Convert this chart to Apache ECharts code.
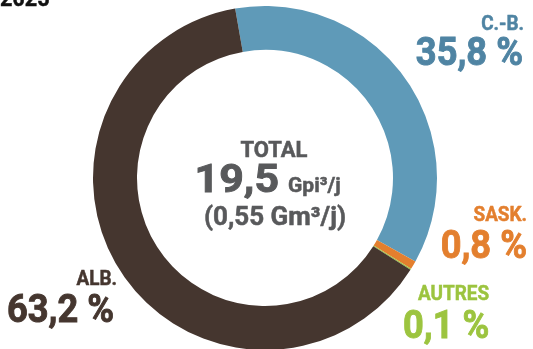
<!DOCTYPE html>
<html><head><meta charset="utf-8">
<script src="https://cdn.jsdelivr.net/npm/echarts@6/dist/echarts.min.js"></script>
<style>html,body{margin:0;padding:0;background:#fff}#c{width:533px;height:349px}</style>
</head><body><div id="c"></div>
<script>
var categories = ['C.-B.', 'SASK.', 'AUTRES', 'ALB.'];
var shares = [35.8, 0.8, 0.1, 63.2];
var colors = ['#5f9ab8', '#e37f2e', '#9cc43f', '#45362f'];
var labelColors = ['#4f84a3', '#e37f2e', '#9cc43f', '#45362f'];
var yearLabel = '2025';
var totalGpi = '19,5';
var totalGm = '0,55';

var FONT = 'Roboto, sans-serif';
var W = 'bold';
function pct(v){ return v.toFixed(1).replace('.', ',') + ' %'; }

var chart = echarts.init(document.getElementById('c'), null, {renderer:'canvas'});

function txt(text, x, y, size, color, align, sx, sw){
  return {type:'text', x:x, y:y, scaleX:sx||1, silent:true, style:{text:text, fill:color, stroke:color, lineWidth:sw||0.5, font:W+' '+size+'px '+FONT, textAlign:align, textVerticalAlign:'middle'}};
}

// label layout: [nameX, nameY, align, valueX, valueY, align]
var pos = [
  [524, 25, 'right', 523, 55, 'right'],
  [527, 216, 'right', 527, 248, 'right'],
  [418, 295, 'left', 403, 328, 'left'],
  [117, 280, 'right', 7, 312, 'left']
];
var g = [txt(yearLabel, 0, 0, 24, '#111', 'left', 0.9)];
categories.forEach(function(c, i){
  var p = pos[i];
  g.push(txt(c, p[0], p[1], 21, labelColors[i], p[2], 0.9));
  g.push(txt(pct(shares[i]), p[3], p[4], 39, labelColors[i], p[5], 0.93, 0.9));
});
var gray = '#58595b';
g.push(txt('TOTAL', 274, 151, 22, gray, 'center'));
g.push(txt(totalGpi, 279, 182, 39, gray, 'right', 1.1, 0.9));
g.push(txt('Gpi³/j', 288, 187, 21, gray, 'left'));
g.push(txt('(' + totalGm + ' Gm³/j)', 275, 218, 26, gray, 'center'));

chart.setOption({
  animation:false,
  graphic: g,
  series:[{
    type:'pie', silent:true, radius:[128,172], center:[265,178], startAngle:100, clockwise:true,
    label:{show:false}, labelLine:{show:false}, emphasis:{disabled:true},
    itemStyle:{borderWidth:0},
    data: categories.map(function(c,i){ return {name:c, value:shares[i], itemStyle:{color:colors[i]}}; })
  }]
});
</script></body></html>
